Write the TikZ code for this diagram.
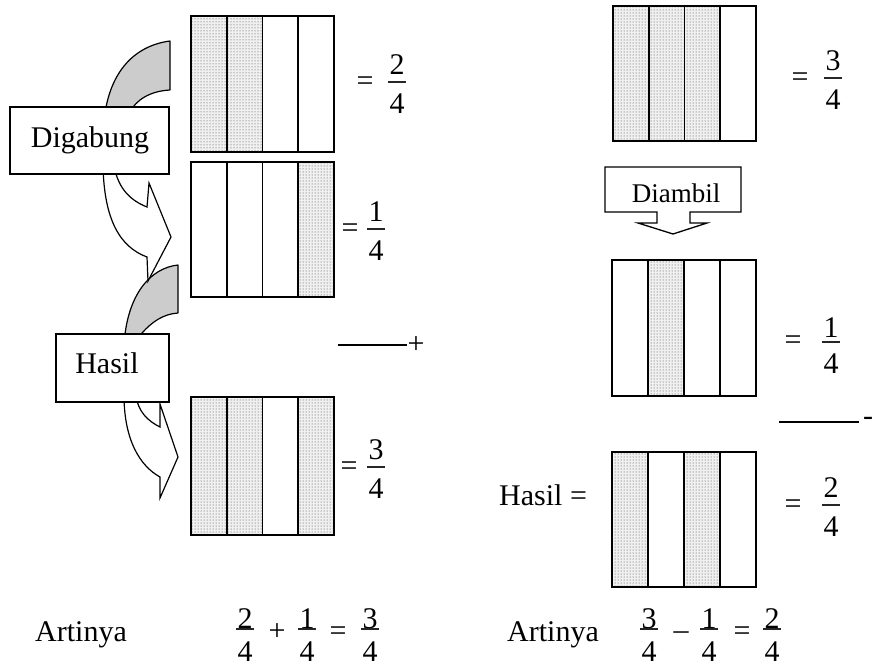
\documentclass[tikz,border=0pt]{standalone}
\usepackage{fontspec}
\setmainfont{Liberation Serif}
\usetikzlibrary{patterns}
\newcommand\stripw{}
\newcommand\stripset[8]{%
  \pgfmathsetmacro\stripw{(#3-#1)/4}%
  \foreach \f [count=\i from 0] in {#5,#6,#7,#8} {%
    \ifnum\f=1 \fill[dotfill] ({#1+\i*\stripw},#2) rectangle ({#1+(\i+1)*\stripw},#4);\fi
  }%
  \foreach \i in {0,...,3} {\draw[stripline] ({#1+\i*\stripw},#2) rectangle ({#1+(\i+1)*\stripw},#4);}%
}
% name, x, line y, num, den, a (num baseline above line), b (den baseline below line)
\newcommand\fracat[7]{%
  \node[txt,anchor=base] (#1n) at (#2,#3-#6) {#4};
  \node[txt,anchor=base] (#1d) at (#2,#3+#7) {#5};
  \draw[fracline] (#2-9,#3) -- (#2+9,#3);
}
% name, x, centre y, text
\newcommand\opat[4]{\node[txt,anchor=base] (#1) at (#2,#3+8) {#4};}
\begin{document}
\begin{tikzpicture}[x=1pt,y=-1pt,
  txt/.style={font=\fontsize{30}{36}\selectfont, inner sep=0pt},
  smalltxt/.style={font=\fontsize{27}{32}\selectfont, inner sep=0pt},
  dotfill/.style={fill=black!6, postaction={pattern=dots, pattern color=black!75}},
  stripline/.style={draw=black, line width=1.6pt},
  fracline/.style={draw=black!85, line width=1.1pt},
  bandgray/.style={draw=black, fill=black!20, line width=1.2pt, line join=round},
  bandwhite/.style={draw=black, fill=white, line width=1.2pt, line join=miter},
  lbox/.style={draw=black, fill=white, line width=1.3pt, inner sep=0pt},
]
\useasboundingbox (0,0) rectangle (875,667);

% ---------- left curved arrows ----------
\draw[bandgray] (170,41) .. controls (132,46) and (108,75) .. (104,122) -- (128,122) -- (130,112)
  .. controls (136,100) and (150,91) .. (170,90) -- cycle;
\draw[bandgray] (178,265) .. controls (150,268) and (127,295) .. (124,345) -- (140,345) -- (142,333)
  .. controls (152,322) and (163,314) .. (178,313) -- cycle;
\draw[bandwhite] (103,165) .. controls (104,220) and (120,247) .. (147,257) -- (148,281) -- (171,237)
  -- (149,183) -- (147,207) .. controls (132,201) and (118,190) .. (114,165) -- cycle;
\draw[bandwhite] (124,395) .. controls (124,440) and (140,466) .. (160,477) -- (160,498) -- (178,457)
  -- (160,404) -- (160,427) .. controls (148,421) and (138,412) .. (136,395) -- cycle;

\node[lbox, minimum width=159, minimum height=67] (digbox) at (89.5,140.5) {};
\node[txt, anchor=base] (digabung) at (90,147) {Digabung};
\node[lbox, minimum width=113, minimum height=68] (hasbox) at (112.5,368) {};
\node[txt, anchor=base] (hasil) at (107,373) {Hasil};

% ---------- left strip boxes ----------
\stripset{191}{16}{334}{152}{1}{1}{0}{0}
\stripset{191}{162}{334}{297}{0}{0}{0}{1}
\stripset{191}{397}{334}{535}{1}{1}{0}{1}

\opat{eqa}{365}{82}{=}
\fracat{fa}{397}{82}{2}{4}{8}{31}
\opat{eqb}{350}{229}{=}
\fracat{fb}{376}{229}{1}{4}{8}{31}
\opat{eqc}{349}{467}{=}
\fracat{fc}{376}{467}{3}{4}{8}{31}

\coordinate (pa) at (338,345);
\coordinate (pb) at (407,345);
\draw[line width=1.3pt] (pa) -- (pb);
\opat{plus}{416}{345}{+}

% ---------- right column ----------
\stripset{613}{6}{756}{141}{1}{1}{1}{0}
\opat{eqd}{800}{78}{=}
\fracat{fd}{833}{78}{3}{4}{8}{31}

\draw[lbox] (605,167) -- (741,167) -- (741,212) -- (690,212) -- (690,223) -- (707,223) -- (673,234)
  -- (638,223) -- (657,223) -- (657,212) -- (605,212) -- cycle;
\node[smalltxt, anchor=base] (diambil) at (676,202) {Diambil};

\stripset{612}{260}{756}{396}{0}{1}{0}{0}
\opat{eqe}{793}{341}{=}
\fracat{fe}{831}{342}{1}{4}{5}{31}

\coordinate (ma) at (779,422);
\coordinate (mb) at (859,422);
\draw[line width=1.3pt] (ma) -- (mb);
\opat{minusr}{868}{417}{-}

\node[txt, anchor=base west] (hasilr) at (499,505) {Hasil =};
\stripset{612}{452}{756}{587}{1}{0}{1}{0}
\opat{eqf}{793}{505}{=}
\fracat{ff}{831}{505}{2}{4}{8}{31}

% ---------- bottom equations ----------
\node[txt, anchor=base west] (artl) at (35,641) {Artinya};
\fracat{ga}{245}{629}{2}{4}{1}{32}
\opat{gplus}{277}{632}{+}
\fracat{gb}{307}{629}{1}{4}{1}{32}
\opat{geq}{338}{632}{=}
\fracat{gc}{370}{629}{3}{4}{1}{32}

\node[txt, anchor=base west] (artr) at (507,641) {Artinya};
\fracat{ha}{649}{629}{3}{4}{1}{32}
\node[txt, anchor=base] (hminus) at (681,639) {–};
\fracat{hb}{709}{629}{1}{4}{1}{32}
\opat{heq}{742}{632}{=}
\fracat{hc}{772}{629}{2}{4}{1}{32}
\end{tikzpicture}
\end{document}
